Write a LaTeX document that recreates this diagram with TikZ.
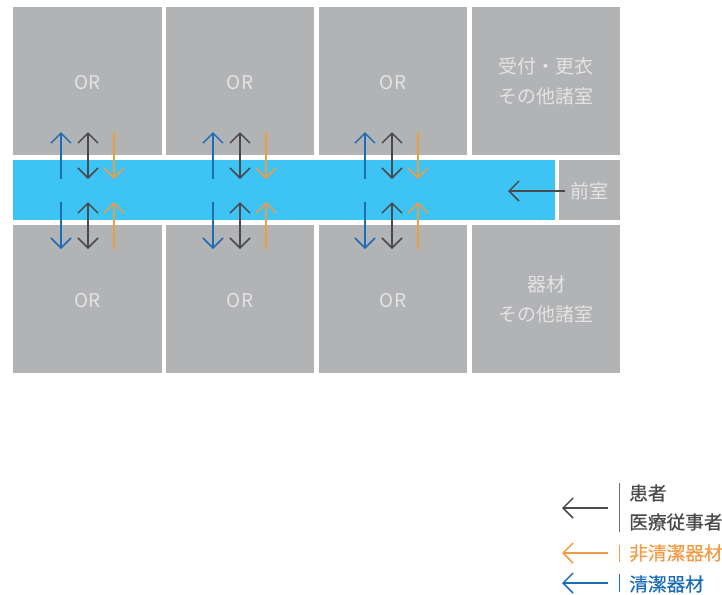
\documentclass[tikz,border=0pt]{standalone}
\usepackage{fontspec}
\setmainfont{Noto Sans CJK JP}
\newfontfamily\legendFont[FakeBold=0.6]{Noto Sans CJK JP}
\usetikzlibrary{arrows.meta}
\definecolor{roomGray}{HTML}{B2B3B5}
\definecolor{roomText}{HTML}{E4E4E5}
\definecolor{corridorBlue}{HTML}{3EC4F4}
\definecolor{cleanBlue}{HTML}{1B6DB6}
\definecolor{staffGray}{HTML}{4A4A4C}
\definecolor{dirtyOrange}{HTML}{F39A45}
\tikzset{
  barb/.tip={Straight Barb[length=7.5pt,width=15pt,line width=1.1pt]},
  room/.style={fill=roomGray,text=roomText,inner sep=0pt,minimum width=111.5pt,minimum height=111pt,align=center,font=\fontsize{14.2}{22.5}\selectfont,execute at begin node=\rule{0pt}{13.3pt}},
  flow/.style={-barb,line width=1.1pt},
  bothFlow/.style={barb-barb,line width=1.1pt},
  legendLabel/.style={anchor=west,inner sep=0pt,font=\fontsize{14}{20}\selectfont\legendFont}
}
\begin{document}
\begin{tikzpicture}[x=0.75pt,y=-0.75pt]
    \useasboundingbox (0,0) rectangle (722,594);

    \node[room](orTopA) at (87.5,81) {OR};
    \node[room](orTopB) at (240,81) {OR};
    \node[room](orTopC) at (393,81) {OR};
    \node[room](reception) at (546,81) {受付・更衣\\その他諸室};
    \node[room](orBottomA) at (87.5,299) {OR};
    \node[room](orBottomB) at (240,299) {OR};
    \node[room](orBottomC) at (393,299) {OR};
    \node[room](equipment) at (546,299) {器材\\その他諸室};
    \node[fill=corridorBlue,inner sep=0pt,minimum width=406.5pt,minimum height=45pt](corridor) at (284,190) {};
    \node[room,minimum width=45.75pt,minimum height=45pt](anteroom) at (589.5,190) {前室};

    \coordinate (blueUpA) at (61,179); \coordinate (blueUpAEnd) at (61,132);
    \coordinate (blueUpB) at (213,179); \coordinate (blueUpBEnd) at (213,132);
    \coordinate (blueUpC) at (365,179); \coordinate (blueUpCEnd) at (365,132);
    \coordinate (blueDownA) at (61,202); \coordinate (blueDownAEnd) at (61,249);
    \coordinate (blueDownB) at (213,202); \coordinate (blueDownBEnd) at (213,249);
    \coordinate (blueDownC) at (365,202); \coordinate (blueDownCEnd) at (365,249);
    \coordinate (grayTopA) at (88,132); \coordinate (grayTopAEnd) at (88,179);
    \coordinate (grayTopB) at (240,132); \coordinate (grayTopBEnd) at (240,179);
    \coordinate (grayTopC) at (392,132); \coordinate (grayTopCEnd) at (392,179);
    \coordinate (grayBottomA) at (88,202); \coordinate (grayBottomAEnd) at (88,249);
    \coordinate (grayBottomB) at (240,202); \coordinate (grayBottomBEnd) at (240,249);
    \coordinate (grayBottomC) at (392,202); \coordinate (grayBottomCEnd) at (392,249);
    \coordinate (orangeDownA) at (114,132); \coordinate (orangeDownAEnd) at (114,179);
    \coordinate (orangeDownB) at (266,132); \coordinate (orangeDownBEnd) at (266,179);
    \coordinate (orangeDownC) at (418,132); \coordinate (orangeDownCEnd) at (418,179);
    \coordinate (orangeUpA) at (114,249); \coordinate (orangeUpAEnd) at (114,202);
    \coordinate (orangeUpB) at (266,249); \coordinate (orangeUpBEnd) at (266,202);
    \coordinate (orangeUpC) at (418,249); \coordinate (orangeUpCEnd) at (418,202);

    \draw [flow,cleanBlue] (blueUpA) -- (blueUpAEnd);
    \draw [flow,cleanBlue] (blueUpB) -- (blueUpBEnd);
    \draw [flow,cleanBlue] (blueUpC) -- (blueUpCEnd);
    \draw [flow,cleanBlue] (blueDownA) -- (blueDownAEnd);
    \draw [flow,cleanBlue] (blueDownB) -- (blueDownBEnd);
    \draw [flow,cleanBlue] (blueDownC) -- (blueDownCEnd);
    \draw [bothFlow,staffGray] (grayTopA) -- (grayTopAEnd);
    \draw [bothFlow,staffGray] (grayTopB) -- (grayTopBEnd);
    \draw [bothFlow,staffGray] (grayTopC) -- (grayTopCEnd);
    \draw [bothFlow,staffGray] (grayBottomA) -- (grayBottomAEnd);
    \draw [bothFlow,staffGray] (grayBottomB) -- (grayBottomBEnd);
    \draw [bothFlow,staffGray] (grayBottomC) -- (grayBottomCEnd);
    \draw [flow,dirtyOrange] (orangeDownA) -- (orangeDownAEnd);
    \draw [flow,dirtyOrange] (orangeDownB) -- (orangeDownBEnd);
    \draw [flow,dirtyOrange] (orangeDownC) -- (orangeDownCEnd);
    \draw [flow,dirtyOrange] (orangeUpA) -- (orangeUpAEnd);
    \draw [flow,dirtyOrange] (orangeUpB) -- (orangeUpBEnd);
    \draw [flow,dirtyOrange] (orangeUpC) -- (orangeUpCEnd);

    \coordinate (anteroomFlow) at (565,191); \coordinate (anteroomFlowEnd) at (508,191);
    \draw [flow,staffGray] (anteroomFlow) -- (anteroomFlowEnd);

    % legend
    \node[legendLabel,text=staffGray](legendPatient) at (629,493) {患者};
    \node[legendLabel,text=staffGray](legendStaff) at (629,522) {医療従事者};
    \node[legendLabel,text=dirtyOrange](legendDirty) at (629,553) {非清潔器材};
    \node[legendLabel,text=cleanBlue](legendClean) at (629,584) {清潔器材};

    \coordinate (keyGray) at (608,508); \coordinate (keyGrayEnd) at (562,508);
    \coordinate (keyOrange) at (608,553); \coordinate (keyOrangeEnd) at (562,553);
    \coordinate (keyBlue) at (608,583); \coordinate (keyBlueEnd) at (562,583);
    \draw [flow,staffGray] (keyGray) -- (keyGrayEnd);
    \draw [flow,dirtyOrange] (keyOrange) -- (keyOrangeEnd);
    \draw [flow,cleanBlue] (keyBlue) -- (keyBlueEnd);

    \coordinate (barGray) at (619.5,483); \coordinate (barGrayEnd) at (619.5,532);
    \coordinate (barOrange) at (619.5,545); \coordinate (barOrangeEnd) at (619.5,562);
    \coordinate (barBlue) at (619.5,574); \coordinate (barBlueEnd) at (619.5,592);
    \draw [line width=0.9pt,staffGray!80] (barGray) -- (barGrayEnd);
    \draw [line width=0.9pt,dirtyOrange] (barOrange) -- (barOrangeEnd);
    \draw [line width=0.9pt,cleanBlue] (barBlue) -- (barBlueEnd);
\end{tikzpicture}
\end{document}
